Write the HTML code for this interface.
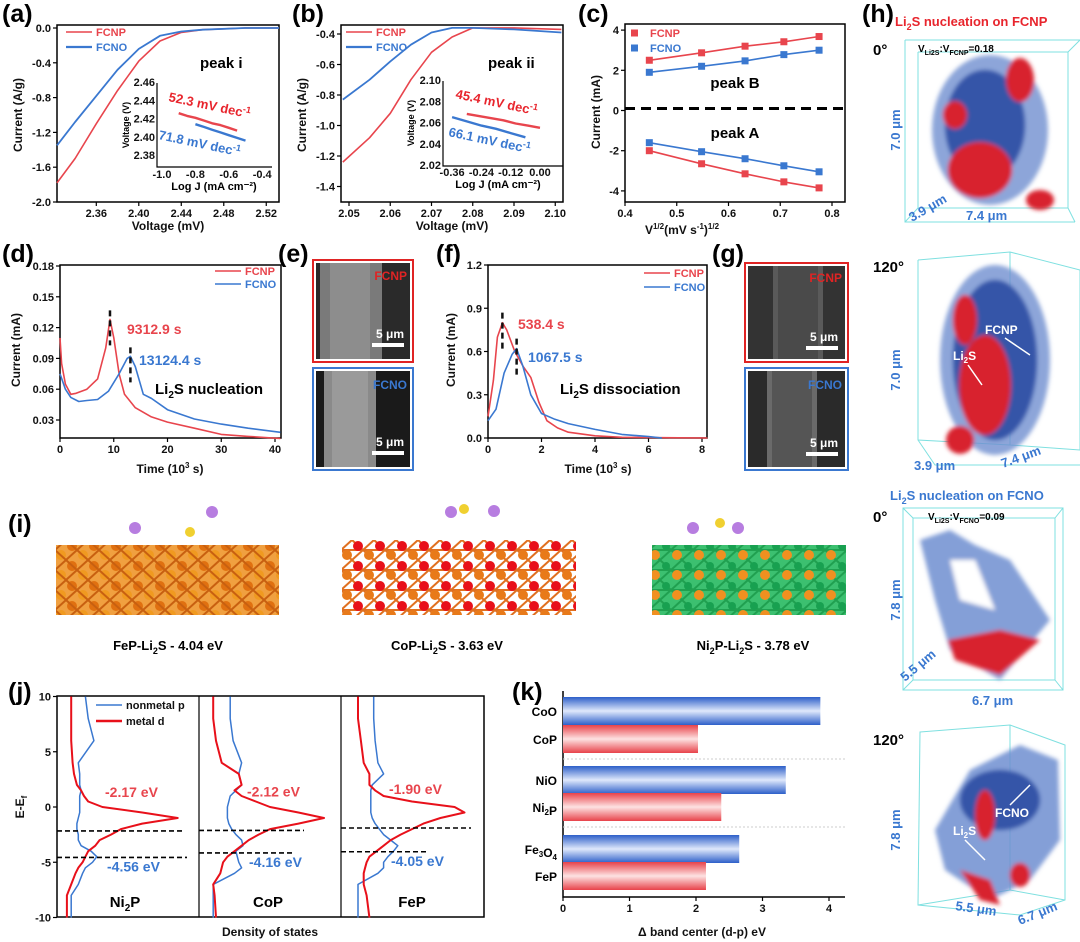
<!DOCTYPE html>
<html><head><meta charset="utf-8">
<style>
html,body{margin:0;padding:0;background:#fff;}
svg{display:block;font-family:"Liberation Sans",Arial,sans-serif;}
.pl{font-size:25px;font-weight:bold;}
.tk{font-size:11px;font-weight:bold;fill:#111;}
.at{font-size:12px;font-weight:bold;fill:#111;}
.lg{font-size:11px;font-weight:bold;}
</style></head>
<body>
<svg id="fig" width="1080" height="942" viewBox="0 0 1080 942" xmlns="http://www.w3.org/2000/svg">
<defs>
<linearGradient id="gb" x1="0" y1="0" x2="0" y2="1"><stop offset="0" stop-color="#2d5fc9"/><stop offset="0.5" stop-color="#dfe8fb"/><stop offset="1" stop-color="#2d5fc9"/></linearGradient>
<linearGradient id="gr" x1="0" y1="0" x2="0" y2="1"><stop offset="0" stop-color="#e8424a"/><stop offset="0.5" stop-color="#fde2e2"/><stop offset="1" stop-color="#e8424a"/></linearGradient>
<pattern id="feP" width="22" height="20" patternUnits="userSpaceOnUse"><rect width="22" height="20" fill="#f0a040"/><circle cx="6" cy="6" r="5" fill="#e07010"/><circle cx="17" cy="15" r="5" fill="#f09a20"/><path d="M0 0L22 20M22 0L0 20" stroke="#c86010" stroke-width="2"/></pattern>
<pattern id="coP" width="22" height="20" patternUnits="userSpaceOnUse"><rect width="22" height="20" fill="#fff"/><path d="M0 0L22 20M22 0L0 20M0 10H22" stroke="#e07020" stroke-width="2"/><circle cx="6" cy="6" r="5" fill="#e8101a"/><circle cx="17" cy="15" r="5" fill="#e87a1a"/></pattern>
<pattern id="niP" width="22" height="20" patternUnits="userSpaceOnUse"><rect width="22" height="20" fill="#3cc070"/><path d="M0 0L22 20M22 0L0 20M0 10H22" stroke="#20a050" stroke-width="2"/><circle cx="6" cy="6" r="4" fill="#18a050"/><circle cx="17" cy="15" r="5" fill="#f09020"/></pattern>
<filter id="bl"><feGaussianBlur stdDeviation="2"/></filter>
</defs>

<text class="pl" x="2" y="22">(a)</text>
<text class="pl" x="292" y="22">(b)</text>
<text class="pl" x="578" y="22">(c)</text>
<text class="pl" x="862" y="22">(h)</text>
<text class="pl" x="2" y="262">(d)</text>
<text class="pl" x="278" y="262">(e)</text>
<text class="pl" x="436" y="262">(f)</text>
<text class="pl" x="712" y="262">(g)</text>
<text class="pl" x="8" y="532">(i)</text>
<text class="pl" x="8" y="700">(j)</text>
<text class="pl" x="512" y="700">(k)</text>

<text class="at" transform="translate(22,115) rotate(-90)" text-anchor="middle">Current (A/g)</text>
<text class="at" x="168" y="230" text-anchor="middle">Voltage (mV)</text>
<text class="at" transform="translate(306,115) rotate(-90)" text-anchor="middle">Current (A/g)</text>
<text class="at" x="452" y="230" text-anchor="middle">Voltage (mV)</text>
<text class="at" transform="translate(600,112) rotate(-90)" text-anchor="middle">Current (mA)</text>
<text class="at" x="682" y="234" text-anchor="middle">V<tspan font-size="8" dy="-5">1/2</tspan><tspan dy="5">(mV s</tspan><tspan font-size="8" dy="-5">-1</tspan><tspan dy="5">)</tspan><tspan font-size="8" dy="-5">1/2</tspan></text>
<text class="at" transform="translate(20,350) rotate(-90)" text-anchor="middle">Current (mA)</text>
<text class="at" x="170" y="473" text-anchor="middle">Time (10<tspan font-size="8" dy="-5">3</tspan><tspan dy="5"> s)</tspan></text>
<text class="at" transform="translate(455,350) rotate(-90)" text-anchor="middle">Current (mA)</text>
<text class="at" x="598" y="473" text-anchor="middle">Time (10<tspan font-size="8" dy="-5">3</tspan><tspan dy="5"> s)</tspan></text>
<text class="at" transform="translate(24,807) rotate(-90)" text-anchor="middle">E-E<tspan font-size="8" dy="3">f</tspan></text>
<text class="at" x="270" y="936" text-anchor="middle">Density of states</text>
<text class="at" x="702" y="936" text-anchor="middle">Δ band center (d-p) eV</text>

<text x="200" y="68" font-size="15" font-weight="bold">peak i</text>
<text x="488" y="68" font-size="15" font-weight="bold">peak ii</text>
<text x="735" y="88" font-size="15" font-weight="bold" text-anchor="middle">peak B</text>
<text x="735" y="138" font-size="15" font-weight="bold" text-anchor="middle">peak A</text>
<text x="168" y="101" font-size="13" font-weight="bold" fill="#e8252d" transform="rotate(12 168 101)">52.3 mV dec<tspan font-size="9" dy="-5">-1</tspan></text>
<text x="158" y="139" font-size="13" font-weight="bold" fill="#3a78d0" transform="rotate(12 158 139)">71.8 mV dec<tspan font-size="9" dy="-5">-1</tspan></text>
<text x="455" y="98" font-size="13" font-weight="bold" fill="#e8252d" transform="rotate(12 455 98)">45.4 mV dec<tspan font-size="9" dy="-5">-1</tspan></text>
<text x="448" y="136" font-size="13" font-weight="bold" fill="#3a78d0" transform="rotate(12 448 136)">66.1 mV dec<tspan font-size="9" dy="-5">-1</tspan></text>
<text x="127" y="334" font-size="14" font-weight="bold" fill="#e8454d">9312.9 s</text>
<text x="139" y="365" font-size="14" font-weight="bold" fill="#3a78d0">13124.4 s</text>
<text x="155" y="394" font-size="15" font-weight="bold">Li<tspan font-size="10" dy="4">2</tspan><tspan dy="-4">S nucleation</tspan></text>
<text x="518" y="329" font-size="14" font-weight="bold" fill="#e8454d">538.4 s</text>
<text x="528" y="362" font-size="14" font-weight="bold" fill="#3a78d0">1067.5 s</text>
<text x="560" y="394" font-size="15" font-weight="bold">Li<tspan font-size="10" dy="4">2</tspan><tspan dy="-4">S dissociation</tspan></text>

<g>
<rect x="313" y="260" width="100" height="102" fill="none" stroke="#e02424" stroke-width="2"/>
<rect x="316" y="263" width="94" height="96" fill="#2a2a2a"/><rect x="320" y="263" width="62" height="96" fill="#7a7a7a"/><rect x="330" y="263" width="40" height="96" fill="#8d8d8d"/>
<text x="407" y="280" font-size="12" font-weight="bold" fill="#e02424" text-anchor="end">FCNP</text>
<text x="404" y="338" font-size="12" font-weight="bold" fill="#fff" text-anchor="end">5 μm</text><rect x="372" y="343" width="32" height="4" fill="#fff"/>
</g>
<g>
<rect x="313" y="368" width="100" height="102" fill="none" stroke="#3a78d0" stroke-width="2"/>
<rect x="316" y="371" width="94" height="96" fill="#1a1a1a"/><rect x="324" y="371" width="52" height="96" fill="#8a8a8a"/><rect x="332" y="371" width="36" height="96" fill="#9a9a9a"/>
<text x="407" y="389" font-size="12" font-weight="bold" fill="#3a78d0" text-anchor="end">FCNO</text>
<text x="404" y="446" font-size="12" font-weight="bold" fill="#fff" text-anchor="end">5 μm</text><rect x="372" y="451" width="32" height="4" fill="#fff"/>
</g>
<g>
<rect x="745" y="263" width="103" height="99" fill="none" stroke="#e02424" stroke-width="2"/>
<rect x="748" y="266" width="97" height="93" fill="#333"/><rect x="773" y="266" width="50" height="93" fill="#5a5a5a"/><rect x="778" y="266" width="40" height="93" fill="#4a4a4a"/>
<text x="842" y="282" font-size="12" font-weight="bold" fill="#e02424" text-anchor="end">FCNP</text>
<text x="838" y="341" font-size="12" font-weight="bold" fill="#fff" text-anchor="end">5 μm</text><rect x="806" y="346" width="32" height="4" fill="#fff"/>
</g>
<g>
<rect x="745" y="368" width="103" height="102" fill="none" stroke="#3a78d0" stroke-width="2"/>
<rect x="748" y="371" width="97" height="96" fill="#2a2a2a"/><rect x="767" y="371" width="50" height="96" fill="#6a6a6a"/><rect x="772" y="371" width="40" height="96" fill="#555"/>
<text x="842" y="389" font-size="12" font-weight="bold" fill="#3a78d0" text-anchor="end">FCNO</text>
<text x="838" y="447" font-size="12" font-weight="bold" fill="#fff" text-anchor="end">5 μm</text><rect x="806" y="452" width="32" height="4" fill="#fff"/>
</g>

<g>
<rect x="56" y="545" width="223" height="70" fill="url(#feP)"/>
<circle cx="135" cy="528" r="6" fill="#b77de0"/><circle cx="190" cy="532" r="5" fill="#f0d030"/><circle cx="212" cy="512" r="6" fill="#b77de0"/>
</g>
<g>
<rect x="342" y="540" width="234" height="75" fill="url(#coP)"/>
<circle cx="451" cy="512" r="6" fill="#b77de0"/><circle cx="464" cy="509" r="5" fill="#f0d030"/><circle cx="494" cy="511" r="6" fill="#b77de0"/>
</g>
<g>
<rect x="652" y="545" width="194" height="70" fill="url(#niP)"/>
<circle cx="693" cy="528" r="6" fill="#b77de0"/><circle cx="720" cy="523" r="5" fill="#f0d030"/><circle cx="738" cy="528" r="6" fill="#b77de0"/>
</g>
<text x="168" y="650" font-size="13" font-weight="bold" text-anchor="middle">FeP-Li<tspan font-size="9" dy="4">2</tspan><tspan dy="-4">S   - 4.04 eV</tspan></text>
<text x="447" y="650" font-size="13" font-weight="bold" text-anchor="middle">CoP-Li<tspan font-size="9" dy="4">2</tspan><tspan dy="-4">S   - 3.63 eV</tspan></text>
<text x="753" y="650" font-size="13" font-weight="bold" text-anchor="middle">Ni<tspan font-size="9" dy="4">2</tspan><tspan dy="-4">P-Li</tspan><tspan font-size="9" dy="4">2</tspan><tspan dy="-4">S  - 3.78 eV</tspan></text>

<g>
<text x="895" y="26" font-size="13" font-weight="bold" fill="#e8252d">Li<tspan font-size="9" dy="4">2</tspan><tspan dy="-4">S nucleation on FCNP</tspan></text>
<text x="873" y="55" font-size="15" font-weight="bold">0°</text>
<path d="M905 40H1080M905 40V222H1075M905 222L918 208M918 208V52M918 52H1068M1068 52V208H918M1068 208L1075 222M1068 52L1080 40" stroke="#7fe0e0" fill="none"/>
<text x="918" y="52" font-size="10" font-weight="bold">V<tspan font-size="7" dy="3">Li2S</tspan><tspan dy="-3">:V</tspan><tspan font-size="7" dy="3">FCNP</tspan><tspan dy="-3">=0.18</tspan></text>
<g filter="url(#bl)"><ellipse cx="990" cy="130" rx="58" ry="75" fill="#6f8ed0" opacity="0.8"/><ellipse cx="985" cy="125" rx="40" ry="55" fill="#3455a8"/><ellipse cx="980" cy="170" rx="32" ry="28" fill="#d8242e"/><ellipse cx="1020" cy="80" rx="14" ry="22" fill="#d8242e"/><ellipse cx="955" cy="115" rx="12" ry="14" fill="#d8242e"/><ellipse cx="1040" cy="200" rx="14" ry="10" fill="#d8242e"/></g>
<text transform="translate(900,130) rotate(-90)" font-size="13" font-weight="bold" fill="#3a78d0" text-anchor="middle">7.0 μm</text>
<text x="912" y="222" font-size="13" font-weight="bold" fill="#3a78d0" transform="rotate(-30 912 222)">3.9 μm</text>
<text x="966" y="220" font-size="13" font-weight="bold" fill="#3a78d0">7.4 μm</text>
</g>
<g>
<text x="873" y="272" font-size="15" font-weight="bold">120°</text>
<path d="M918 260L1010 252L1080 270V450L1010 445M1010 252V445M918 260V440L1010 445M918 440L935 465H1080" stroke="#7fe0e0" fill="none"/>
<g filter="url(#bl)"><ellipse cx="995" cy="360" rx="55" ry="95" fill="#6f8ed0" opacity="0.8"/><ellipse cx="995" cy="360" rx="42" ry="80" fill="#3455a8"/><ellipse cx="985" cy="385" rx="26" ry="50" fill="#d8242e"/><ellipse cx="965" cy="320" rx="12" ry="25" fill="#d8242e"/><ellipse cx="960" cy="440" rx="14" ry="14" fill="#d8242e"/></g>
<text x="985" y="334" font-size="12" font-weight="bold" fill="#fff">FCNP</text>
<text x="953" y="360" font-size="12" font-weight="bold" fill="#fff">Li<tspan font-size="8" dy="3">2</tspan><tspan dy="-3">S</tspan></text>
<path d="M1005 338L1030 355M968 365L982 385" stroke="#fff" stroke-width="1.5"/>
<text transform="translate(900,370) rotate(-90)" font-size="13" font-weight="bold" fill="#3a78d0" text-anchor="middle">7.0 μm</text>
<text x="914" y="470" font-size="13" font-weight="bold" fill="#3a78d0">3.9 μm</text>
<text x="1003" y="468" font-size="13" font-weight="bold" fill="#3a78d0" transform="rotate(-20 1003 468)">7.4 μm</text>
</g>
<g>
<text x="890" y="500" font-size="13" font-weight="bold" fill="#3a78d0">Li<tspan font-size="9" dy="4">2</tspan><tspan dy="-4">S nucleation on FCNO</tspan></text>
<text x="873" y="522" font-size="15" font-weight="bold">0°</text>
<path d="M903 508H1063V690H903ZM903 508L913 518M1063 508L1055 518M913 518H1055V680H913ZM903 690L913 680M1063 690L1055 680" stroke="#7fe0e0" fill="none"/>
<text x="928" y="520" font-size="10" font-weight="bold">V<tspan font-size="7" dy="3">Li2S</tspan><tspan dy="-3">:V</tspan><tspan font-size="7" dy="3">FCNO</tspan><tspan dy="-3">=0.09</tspan></text>
<g filter="url(#bl)"><path d="M920 540L950 530L975 545L1010 560L1050 620L1000 680L950 650L935 600Z" fill="#6f8ed0" opacity="0.85"/><path d="M950 560L975 560L995 610L960 600Z" fill="#fff"/><path d="M948 640L1000 630L1040 640L1000 675L955 660Z" fill="#d8242e"/></g>
<text transform="translate(900,600) rotate(-90)" font-size="13" font-weight="bold" fill="#3a78d0" text-anchor="middle">7.8 μm</text>
<text x="905" y="682" font-size="13" font-weight="bold" fill="#3a78d0" transform="rotate(-40 905 682)">5.5 μm</text>
<text x="972" y="705" font-size="13" font-weight="bold" fill="#3a78d0">6.7 μm</text>
</g>
<g>
<text x="873" y="745" font-size="15" font-weight="bold">120°</text>
<path d="M920 732L1010 725L1065 745V900L1020 915L918 905ZM1010 725V890M918 905L1010 890L1065 900" stroke="#7fe0e0" fill="none"/>
<g filter="url(#bl)"><path d="M935 830L970 770L1020 745L1058 760L1060 840L1030 880L990 900L945 870Z" fill="#6f8ed0" opacity="0.85"/><ellipse cx="1000" cy="800" rx="40" ry="30" fill="#3455a8"/><ellipse cx="985" cy="815" rx="10" ry="25" fill="#d8242e"/><path d="M960 870L990 880L1000 905L980 900Z" fill="#d8242e"/><ellipse cx="1020" cy="875" rx="10" ry="12" fill="#d8242e"/></g>
<text x="995" y="817" font-size="12" font-weight="bold" fill="#fff">FCNO</text>
<text x="953" y="835" font-size="12" font-weight="bold" fill="#fff">Li<tspan font-size="8" dy="3">2</tspan><tspan dy="-3">S</tspan></text>
<path d="M1010 805L1030 785M965 840L985 860" stroke="#fff" stroke-width="1.5"/>
<text transform="translate(900,830) rotate(-90)" font-size="13" font-weight="bold" fill="#3a78d0" text-anchor="middle">7.8 μm</text>
<text x="955" y="910" font-size="13" font-weight="bold" fill="#3a78d0" transform="rotate(8 955 910)">5.5 μm</text>
<text x="1020" y="925" font-size="13" font-weight="bold" fill="#3a78d0" transform="rotate(-22 1020 925)">6.7 μm</text>
</g>
<g id="charts"></g>
</svg>
<script>
const aVolt = [2.323,2.34,2.36,2.38,2.40,2.42,2.44,2.46,2.50,2.532];
const aFCNP = [-1.78,-1.5,-1.1,-0.72,-0.38,-0.15,-0.05,-0.02,0,0];
const aFCNO = [-1.35,-1.08,-0.78,-0.48,-0.24,-0.09,-0.04,-0.02,0,0];
const aInsetX1 = [-0.9,-0.85,-0.8,-0.75,-0.7,-0.65,-0.6,-0.55];
const aInsetY1 = [2.427,2.424,2.422,2.419,2.416,2.414,2.411,2.408];
const aInsetX2 = [-0.8,-0.75,-0.7,-0.65,-0.6,-0.55,-0.5];
const aInsetY2 = [2.415,2.412,2.409,2.406,2.403,2.400,2.397];
const bVolt = [2.0485,2.055,2.06,2.065,2.07,2.075,2.08,2.09,2.1015];
const bFCNP = [-1.24,-1.08,-0.92,-0.7,-0.52,-0.42,-0.36,-0.36,-0.37];
const bFCNO = [-0.83,-0.7,-0.58,-0.47,-0.39,-0.36,-0.36,-0.37,-0.39];
const bInsetX1 = [-0.3,-0.25,-0.2,-0.15,-0.1,-0.05,0];
const bInsetY1 = [2.069,2.067,2.065,2.063,2.060,2.058,2.056];
const bInsetX2 = [-0.36,-0.3,-0.24,-0.18,-0.12,-0.06];
const bInsetY2 = [2.066,2.062,2.058,2.055,2.051,2.047];
const cX = [0.447,0.548,0.632,0.707,0.775];
const cFCNP_B = [2.5,2.87,3.2,3.42,3.68];
const cFCNO_B = [1.9,2.2,2.47,2.78,3.0];
const cFCNO_A = [-1.6,-2.05,-2.4,-2.75,-3.05];
const cFCNP_A = [-2.0,-2.65,-3.15,-3.55,-3.85];
const dTimeP = [0,0.3,1,2,3,5,7,8.5,9.3,10,11,12,14,17,20,25,30,35,41];
const dFCNP = [0.11,0.085,0.065,0.055,0.056,0.06,0.07,0.1,0.128,0.11,0.075,0.055,0.042,0.033,0.028,0.022,0.016,0.014,0.012];
const dTimeO = [0,1,2,3.5,5,7,9,11,12.5,13.1,14,15.5,17,20,25,30,35,41];
const dFCNO = [0.075,0.06,0.052,0.048,0.049,0.05,0.058,0.075,0.09,0.092,0.082,0.055,0.051,0.04,0.031,0.026,0.022,0.018];
const fTimeP = [0,0.2,0.35,0.538,0.7,1,1.3,1.6,1.9,2.2,2.6,3,4,5,8.2];
const fFCNP = [0.15,0.4,0.7,0.8,0.75,0.6,0.5,0.42,0.25,0.12,0.07,0.04,0.015,0.005,0];
const fTimeO = [0,0.3,0.6,0.9,1.07,1.3,1.6,2,2.5,3,4,5,6,6.5];
const fFCNO = [0.12,0.2,0.45,0.58,0.62,0.5,0.3,0.17,0.13,0.1,0.06,0.025,0.01,0];
const dosE = [10,8,6,4,3,2,1.5,1,0.5,0,-0.5,-1,-1.5,-2,-2.5,-3,-3.5,-4,-4.5,-5,-5.5,-6,-7,-8,-10];
const ni2pD = [0.10,0.10,0.10,0.11,0.12,0.14,0.17,0.19,0.22,0.32,0.6,0.85,0.6,0.45,0.38,0.3,0.27,0.22,0.2,0.18,0.15,0.13,0.1,0.07,0.07];
const ni2pP = [0.2,0.22,0.26,0.15,0.16,0.16,0.17,0.16,0.16,0.16,0.16,0.15,0.14,0.14,0.15,0.15,0.17,0.24,0.28,0.25,0.2,0.18,0.15,0.1,0.1];
const copD = [0.1,0.1,0.12,0.16,0.28,0.3,0.25,0.3,0.4,0.5,0.7,0.88,0.7,0.5,0.42,0.35,0.3,0.25,0.2,0.17,0.16,0.15,0.1,0.11,0.12];
const copP = [0.22,0.22,0.24,0.3,0.28,0.3,0.26,0.22,0.21,0.2,0.2,0.2,0.21,0.23,0.26,0.3,0.31,0.26,0.27,0.28,0.3,0.25,0.1,0.1,0.1];
const fepD = [0.12,0.12,0.14,0.16,0.2,0.2,0.24,0.3,0.5,0.8,0.87,0.7,0.58,0.5,0.42,0.35,0.3,0.25,0.2,0.18,0.17,0.16,0.16,0.18,0.2];
const fepP = [0.23,0.23,0.24,0.26,0.3,0.22,0.21,0.21,0.21,0.21,0.21,0.22,0.24,0.27,0.3,0.35,0.4,0.37,0.33,0.3,0.3,0.26,0.12,0.12,0.12];
const dosBands = [[-2.17,-4.56],[-2.12,-4.16],[-1.90,-4.05]];
const dosBandLabels = [["-2.17 eV","-4.56 eV"],["-2.12 eV","-4.16 eV"],["-1.90 eV","-4.05 eV"]];
const dosNames = ["Ni2P","CoP","FeP"];
const kCats = ["CoO","CoP","NiO","Ni2P","Fe3O4","FeP"];
const kVals = [3.87,2.03,3.35,2.38,2.65,2.15];
const kTicks = [0,1,2,3,4];

const NS = "http://www.w3.org/2000/svg";
const root = document.getElementById('charts');
function mk(tag, attrs, parent){ const e=document.createElementNS(NS,tag); for(const k in attrs) e.setAttribute(k,attrs[k]); (parent||root).appendChild(e); return e; }
function label(x,y,s,anchor,cls){ const t=mk('text',{x:x,y:y,'text-anchor':anchor||'middle','class':cls||'tk'}); t.textContent=s;
  
  
  return t; }
function frame(x0,y0,x1,y1,name){ const r=mk('rect',{x:x0,y:y0,width:x1-x0,height:y1-y0,fill:'none',stroke:'#000','stroke-width':1.5});
  
   }
function xTicks(vals,labs,sx,yb){ vals.forEach((v,i)=>{ const l=mk('line',{x1:sx(v),x2:sx(v),y1:yb,y2:yb+4,stroke:'#000','stroke-width':1.2});
  
  
  label(sx(v),yb+15,labs[i]); }); }
function yTicks(vals,labs,sy,xl){ vals.forEach((v,i)=>{ const l=mk('line',{x1:xl-4,x2:xl,y1:sy(v),y2:sy(v),stroke:'#000','stroke-width':1.2});
  
  
  label(xl-6,sy(v)+4,labs[i],'end'); }); }
function pathD(xs,ys,sx,sy){ return xs.map((x,i)=>(i?'L':'M')+sx(x).toFixed(1)+' '+sy(ys[i]).toFixed(1)).join(''); }
function line(xs,ys,sx,sy,color,w,name){ const p=mk('path',{d:pathD(xs,ys,sx,sy),fill:'none',stroke:color,'stroke-width':w||1.6,'stroke-linejoin':'round'});
  
  
  return p; }
function legend(x,y,color,s,w){ const l=mk('line',{x1:x,x2:x+26,y1:y,y2:y,stroke:color,'stroke-width':w||1.6});
  
  
  const t=mk('text',{x:x+30,y:y+4,'class':'lg',fill:color}); t.textContent=s;
  
   }
const RED='#e8454d', BLUE='#3a78d0';

// (a)
const sxA=v=>57+(v-2.323)/(2.532-2.323)*222, syA=v=>28+(0-v)/2*174;
frame(57,25,279,202,'a-plot-frame');
xTicks([2.36,2.40,2.44,2.48,2.52],['2.36','2.40','2.44','2.48','2.52'],sxA,202);
yTicks([0,-0.4,-0.8,-1.2,-1.6,-2.0],['0.0','-0.4','-0.8','-1.2','-1.6','-2.0'],syA,57);
line(aVolt,aFCNP,sxA,syA,RED,1.6,'a-fcnp-line');
line(aVolt,aFCNO,sxA,syA,BLUE,1.8,'a-fcno-line');
legend(66,32,RED,'FCNP'); legend(66,47,BLUE,'FCNO',2.2);
const sxAi=v=>162+(v+1)/0.2*33.4, syAi=v=>83+(2.46-v)/0.02*18.3;
const ai=mk('path',{d:'M157 83V167H272',fill:'none',stroke:'#000','stroke-width':1.2});


[-1.0,-0.8,-0.6,-0.4].forEach(v=>{ const t=label(sxAi(v),178,v.toFixed(1)); t.setAttribute('font-size','8'); });
[2.46,2.44,2.42,2.40,2.38].forEach(v=>{ const t=label(155,syAi(v)+3,v.toFixed(2),'end'); t.setAttribute('font-size','8'); });
label(214,190,'Log J (mA cm⁻²)','middle','lg');
const ayt=mk('text',{transform:'translate(129,125) rotate(-90)','text-anchor':'middle','font-size':9,'font-weight':'bold'}); ayt.textContent='Voltage (V)';


line(aInsetX1,aInsetY1,sxAi,syAi,RED,2.4,'a-inset-fcnp');
line(aInsetX2,aInsetY2,sxAi,syAi,BLUE,2.4,'a-inset-fcno');

// (b)
const sxB=v=>349+(v-2.05)/0.01*41.25, syB=v=>34+(-0.4-v)/0.2*30.5;
frame(341,25,563,202,'b-plot-frame');
xTicks([2.05,2.06,2.07,2.08,2.09,2.10],['2.05','2.06','2.07','2.08','2.09','2.10'],sxB,202);
yTicks([-0.4,-0.6,-0.8,-1.0,-1.2,-1.4],['-0.4','-0.6','-0.8','-1.0','-1.2','-1.4'],syB,341);
line(bVolt,bFCNP,sxB,syB,RED,1.6,'b-fcnp-line');
line(bVolt,bFCNO,sxB,syB,BLUE,1.8,'b-fcno-line');
legend(346,32,RED,'FCNP'); legend(346,47,BLUE,'FCNO',2.2);
const sxBi=v=>540+v/0.12*29.3, syBi=v=>81+(2.10-v)/0.02*21.25;
const bi=mk('path',{d:'M443 81V166H563',fill:'none',stroke:'#000','stroke-width':1.2});


[-0.36,-0.24,-0.12,0].forEach(v=>{ const t=label(sxBi(v),176,v.toFixed(2)); t.setAttribute('font-size','8'); });
[2.10,2.08,2.06,2.04,2.02].forEach(v=>{ const t=label(441,syBi(v)+3,v.toFixed(2),'end'); t.setAttribute('font-size','8'); });
label(498,188,'Log J (mA cm⁻²)','middle','lg');
const byt=mk('text',{transform:'translate(414,123) rotate(-90)','text-anchor':'middle','font-size':9,'font-weight':'bold'}); byt.textContent='Voltage (V)';


line(bInsetX1,bInsetY1,sxBi,syBi,RED,2.4,'b-inset-fcnp');
line(bInsetX2,bInsetY2,sxBi,syBi,BLUE,2.4,'b-inset-fcno');

// (c)
const sxC=v=>625+(v-0.4)*517.5, syC=v=>110.5-v*20.1;
frame(625,24,845,202,'c-plot-frame');
xTicks([0.4,0.5,0.6,0.7,0.8],['0.4','0.5','0.6','0.7','0.8'],sxC,202);
yTicks([4,2,0,-2,-4],['4','2','0','-2','-4'],syC,625);
const dl=mk('line',{x1:625,x2:845,y1:syC(0)-2,y2:syC(0)-2,stroke:'#000','stroke-width':3,'stroke-dasharray':'10 6'});


[[cFCNP_B,RED,'c-fcnp-peak-b'],[cFCNO_B,BLUE,'c-fcno-peak-b'],[cFCNO_A,BLUE,'c-fcno-peak-a'],[cFCNP_A,RED,'c-fcnp-peak-a']].forEach(s=>{
  line(cX,s[0],sxC,syC,s[1],1.6,s[2]+'-line');
  cX.forEach((x,i)=>{ const r=mk('rect',{x:sxC(x)-3.5,y:syC(s[0][i])-3.5,width:7,height:7,fill:s[1]});
    
     });
});
[[33,RED,'FCNP'],[48,BLUE,'FCNO']].forEach(s=>{ const r=mk('rect',{x:631,y:s[0]-3.5,width:7,height:7,fill:s[1]});
  
  
  const t=mk('text',{x:650,y:s[0]+4,'class':'lg',fill:s[1],'font-size':12}); t.textContent=s[2];
  
   });

// (d)
const sxD=v=>60+v*(215/40), syD=v=>420-(v-0.03)/0.03*30.8;
frame(60,265,281,438,'d-plot-frame');
xTicks([0,10,20,30,40],['0','10','20','30','40'],sxD,438);
yTicks([0.03,0.06,0.09,0.12,0.15,0.18],['0.03','0.06','0.09','0.12','0.15','0.18'],syD,60);
line(dTimeP,dFCNP,sxD,syD,RED,1.6,'d-fcnp-line');
line(dTimeO,dFCNO,sxD,syD,BLUE,1.6,'d-fcno-line');
legend(215,271,RED,'FCNP'); legend(215,284,BLUE,'FCNO');
[[9.3,0.128],[13.1,0.092]].forEach(p=>{ const l=mk('line',{x1:sxD(p[0]),x2:sxD(p[0]),y1:syD(p[1])-9,y2:syD(p[1])+26,stroke:'#111','stroke-width':2.5,'stroke-dasharray':'6 4'});
  
   });

// (f)
const sxF=v=>488+v*(214/8), syF=v=>438-v/0.3*43.25;
frame(488,265,707,438,'f-plot-frame');
xTicks([0,2,4,6,8],['0','2','4','6','8'],sxF,438);
yTicks([0,0.3,0.6,0.9,1.2],['0.0','0.3','0.6','0.9','1.2'],syF,488);
line(fTimeP,fFCNP,sxF,syF,RED,1.6,'f-fcnp-line');
line(fTimeO,fFCNO,sxF,syF,BLUE,1.6,'f-fcno-line');
legend(644,273,RED,'FCNP'); legend(644,287,BLUE,'FCNO');
[[0.538,0.8],[1.07,0.62]].forEach(p=>{ const l=mk('line',{x1:sxF(p[0]),x2:sxF(p[0]),y1:syF(p[1])-10,y2:syF(p[1])+26,stroke:'#111','stroke-width':2.5,'stroke-dasharray':'6 4'});
  
   });

// (j)
const syJ=e=>807-e*11.05;
const jx0=[57,199,341];
frame(57,696,484,917,'j-plot-frame');
[199,341].forEach(x=>{ const l=mk('line',{x1:x,x2:x,y1:696,y2:917,stroke:'#000','stroke-width':1.2});
  
   });
yTicks([10,5,0,-5,-10],['10','5','0','-5','-10'],syJ,57);
[[ni2pD,ni2pP],[copD,copP],[fepD,fepP]].forEach((s,k)=>{
  const sx=f=>jx0[k]+f*142;
  line(s[1],dosE,sx,syJ,BLUE,1.5,'dos-nonmetal-p-'+dosNames[k].toLowerCase());
  line(s[0],dosE,sx,syJ,'#e8101a',2,'dos-metal-d-'+dosNames[k].toLowerCase());
  const ends=[[125,130],[105,95],[130,85]][k];
  dosBands[k].forEach((e,i)=>{ const l=mk('line',{x1:jx0[k],x2:jx0[k]+ends[i],y1:syJ(e),y2:syJ(e),stroke:'#000','stroke-width':1.6,'stroke-dasharray':'5 3'});
    
    
    const t=mk('text',{x:jx0[k]+(i?50:48),y:syJ(e)+(i?14:-34),'font-size':14,'font-weight':'bold',fill:i?BLUE:RED}); t.textContent=dosBandLabels[k][i];
    
     });
});
[['Ni',125],['CoP',268],['FeP',412]].forEach((s,k)=>{ const t=mk('text',{x:s[1],y:907,'font-size':15,'font-weight':'bold','text-anchor':'middle'});
  if(k===0){ t.innerHTML='Ni<tspan font-size="10" dy="4">2</tspan><tspan dy="-4">P</tspan>'; } else { t.textContent=s[0]; }
  
   });
legend(96,705,BLUE,'nonmetal p'); legend(96,721,'#e8101a','metal d',2.4);
root.querySelectorAll('text.lg').forEach(t=>{ if(t.textContent==='nonmetal p'||t.textContent==='metal d') t.setAttribute('fill','#111'); });

// (k)
const sxK=v=>563+v*66.5;
const kTop=[697,725,766,793,835,862], kH=28;
const ka=mk('path',{d:'M563 691V897H845',fill:'none',stroke:'#000','stroke-width':1.5});


xTicks(kTicks,kTicks.map(String),sxK,897);
[759,827].forEach(y=>{ const l=mk('line',{x1:563,x2:845,y1:y,y2:y,stroke:'#ccc','stroke-width':1,'stroke-dasharray':'2 2'});
  
   });
kCats.forEach((c,i)=>{
  const r=mk('rect',{x:563,y:kTop[i],width:sxK(kVals[i])-563,height:kH,fill:(i%2===0)?'url(#gb)':'url(#gr)'});
  
  
  const t=mk('text',{x:557,y:kTop[i]+kH/2+5,'text-anchor':'end','font-size':12,'font-weight':'bold'});
  t.innerHTML=c.replace(/(\d)/g,'<tspan font-size="8" dy="3">$1</tspan><tspan dy="-3"></tspan>');
  
  
});
</script>
</body></html>
